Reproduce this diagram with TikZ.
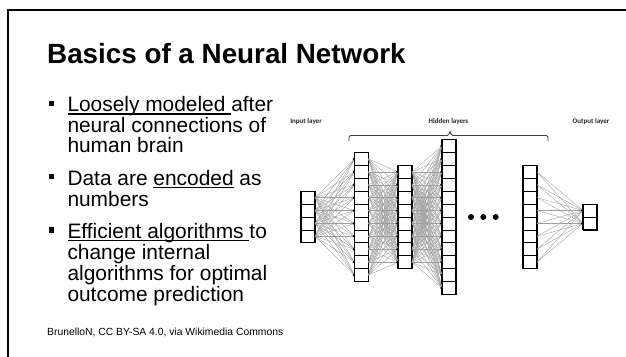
\documentclass[tikz,border=0pt]{standalone}
\usepackage{fontspec}
\setmainfont{Liberation Sans}
\newfontfamily\lblfont{Carlito}
\newcommand\myul[1]{\setbox0\hbox{#1}\rlap{\rule[-2.8pt]{\wd0}{1.3pt}}\box0\relax}
\begin{document}
\begin{tikzpicture}[x=1pt,y=-1pt,
  cell/.style={draw=black,line width=0.8pt,minimum width=14pt,minimum height=12.9pt,inner sep=0pt,outer sep=0pt},
  conn/.style={draw=black!38,line width=0.35pt},
  tipdot/.style={fill=black,circle,inner sep=0pt,minimum size=2.6pt},
  edot/.style={fill=black,circle,inner sep=0pt,minimum size=6pt},
  bsq/.style={fill=black,inner sep=0pt,minimum size=5.3pt},
  body/.style={anchor=base west,inner sep=0pt,font=\fontsize{20.9}{20.9}\selectfont},
  lbl/.style={anchor=base,inner sep=0pt,text=black!85,font=\lblfont\bfseries\fontsize{7}{7}\selectfont},
  frameline/.style={line width=2pt,draw=black}
]
\useasboundingbox (0,0) rectangle (626,356);
\fill[white] (0,0) rectangle (626,356);
% slide frame
\draw[frameline] (8,357) -- (8,10) -- (627,10);
% title
\node[anchor=base west,inner sep=0pt,font=\fontsize{27.8}{27.8}\selectfont\bfseries] (title) at (47,63.3) {Basics of a Neural Network};
% bullets
\node[bsq] (b1) at (51.5,103.3) {};
\node[bsq] (b2) at (51.5,176.6) {};
\node[bsq] (b3) at (51.5,229.9) {};
\node[body] (t11) at (67.3,111.7) {\myul{Loosely modeled }after};
\node[body] (t12) at (67.3,132.0) {neural connections of};
\node[body] (t13) at (67.3,152.3) {human brain};
\node[body] (t21) at (67.3,185.0) {Data are \myul{encoded} as};
\node[body] (t22) at (67.3,206.0) {numbers};
\node[body] (t31) at (67.3,238.3) {\myul{Efficient algorithms }to};
\node[body] (t32) at (67.3,259.5) {change internal};
\node[body] (t33) at (67.3,280.5) {algorithms for optimal};
\node[body] (t34) at (67.3,301.5) {outcome prediction};
\node[anchor=base west,inner sep=0pt,font=\fontsize{10.35}{10.35}\selectfont] (credit) at (47,335) {BrunelloN, CC BY-SA 4.0, via Wikimedia Commons};
% network cells
\foreach \L/\x/\nn in {0/308/4,1/361.5/10,2/405/8,3/449/12,4/530/8,5/590/2}{
  \foreach \k in {1,...,\nn}{
    \node[cell] (c\L-\k) at (\x,{217+(\k-(\nn+1)/2)*12.9}) {};
  }
  \draw[line width=1.1pt] (c\L-1.north west) rectangle (c\L-\nn.south east);
}
% connections
\foreach \A/\B/\na/\nb in {0/1/4/10,1/2/10/8,2/3/8/12,4/5/8/2}{
  \foreach \i in {1,...,\na}{
    \foreach \j in {1,...,\nb}{
      \draw[conn] (c\A-\i.east) -- (c\B-\j.west);
    }
  }
  \foreach \j in {1,...,\nb}{
    \node[tipdot] (d\B-\j) at ([xshift=-0.6pt]c\B-\j.west) {};
  }
}
% ellipsis
\node[edot] (e1) at (471,217) {};
\node[edot] (e2) at (483.3,217) {};
\node[edot] (e3) at (495.7,217) {};
% labels
\node[lbl] (lin) at (306,123.3) {Input layer};
\node[lbl] (lhid) at (448.5,123.3) {Hidden layers};
\node[lbl] (lout) at (591,123.3) {Output layer};
% brace
\draw[line width=0.9pt,black!75,rounded corners=1.5pt] (349,141) -- (349,135.5) -- (448.6,135.5) -- (450,130.5) -- (451.4,135.5) -- (548,135.5) -- (548,141);
\end{tikzpicture}
\end{document}
